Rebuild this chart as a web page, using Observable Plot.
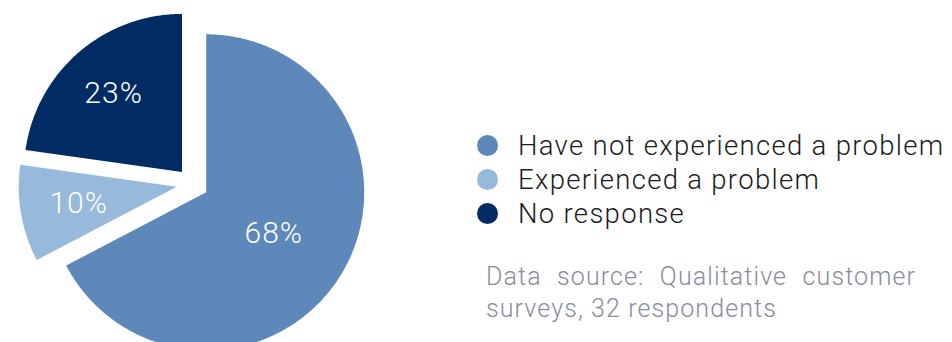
<!DOCTYPE html>
<html><head><meta charset="utf-8">
<script src="https://cdn.jsdelivr.net/npm/d3@7"></script>
<script src="https://cdn.jsdelivr.net/npm/@observablehq/plot@0.6"></script>
<style>
body{margin:0;background:#fff;font-family:Roboto,"Helvetica Neue",Arial,sans-serif;}
#wrap{position:relative;width:952px;height:342px;overflow:hidden;}
#legend{position:absolute;left:477px;top:128px;}
.row{display:flex;align-items:center;height:34.2px;font-size:27.5px;letter-spacing:1.3px;font-weight:300;color:#1c1c1c;white-space:nowrap;}
.dot{width:21px;height:21px;border-radius:50%;margin-right:20px;flex:none;}
#caption{position:absolute;left:486px;top:261px;width:430px;font-size:25px;letter-spacing:1.1px;line-height:32px;font-weight:300;color:#8a8c9c;text-align:justify;}
</style></head><body>
<div id="wrap"><div id="chart"></div><div id="legend"></div><div id="caption"></div></div>
<script>
const categories = ["Have not experienced a problem", "Experienced a problem", "No response"];
const values = [68, 10, 23];
const labels = ["68%", "10%", "23%"];
const colors = ["#5e88ba", "#97b9dc", "#002c63"];
const captionText = "Data source: Qualitative customer surveys, 32 respondents";

// layout
const W = 952, H = 342, R = 158, cx = 192, cy = 183.5, explode = 16;
const labelRadius = [0.5, 0.63, 0.66];

const arcs = d3.pie().sort(null).value(d => d.value)(categories.map((name, i) => ({name, value: values[i], label: labels[i]})));
const e = explode / R;
const pts = [];
const labelData = [];
arcs.forEach((a, i) => {
  const mid = (a.startAngle + a.endAngle) / 2;
  const ox = e * Math.sin(mid), oy = e * Math.cos(mid);
  const name = a.data.name;
  pts.push({name, x: ox, y: oy});
  const n = Math.max(2, Math.ceil((a.endAngle - a.startAngle) / (Math.PI / 360)));
  for (let k = 0; k <= n; k++) {
    const t = a.startAngle + (a.endAngle - a.startAngle) * k / n;
    pts.push({name, x: ox + Math.sin(t), y: oy + Math.cos(t)});
  }
  labelData.push({text: a.data.label, x: ox + labelRadius[i] * Math.sin(mid), y: oy + labelRadius[i] * Math.cos(mid)});
});

const chart = Plot.plot({
  width: W, height: H, margin: 0,
  style: {fontFamily: 'Roboto,"Helvetica Neue",Arial,sans-serif', background: "white", letterSpacing: "1px"},
  x: {domain: [-cx / R, (W - cx) / R], range: [0, W], axis: null},
  y: {domain: [-(H - cy) / R, cy / R], range: [H, 0], axis: null},
  color: {domain: categories, range: colors},
  marks: [
    Plot.line(pts, {x: "x", y: "y", z: "name", fill: "name", stroke: "none", curve: "linear-closed"}),
    Plot.text(labelData, {x: "x", y: "y", text: "text", fill: "white", fontSize: 30, fontWeight: 300, textAnchor: "middle", lineAnchor: "middle"})
  ]
});
document.getElementById("chart").appendChild(chart);

const legend = document.getElementById("legend");
categories.forEach((c, i) => {
  const row = document.createElement("div");
  row.className = "row";
  const dot = document.createElement("span");
  dot.className = "dot";
  dot.style.background = colors[i];
  const t = document.createElement("span");
  t.textContent = c;
  row.appendChild(dot); row.appendChild(t);
  legend.appendChild(row);
});
document.getElementById("caption").textContent = captionText;
</script>
</body></html>
